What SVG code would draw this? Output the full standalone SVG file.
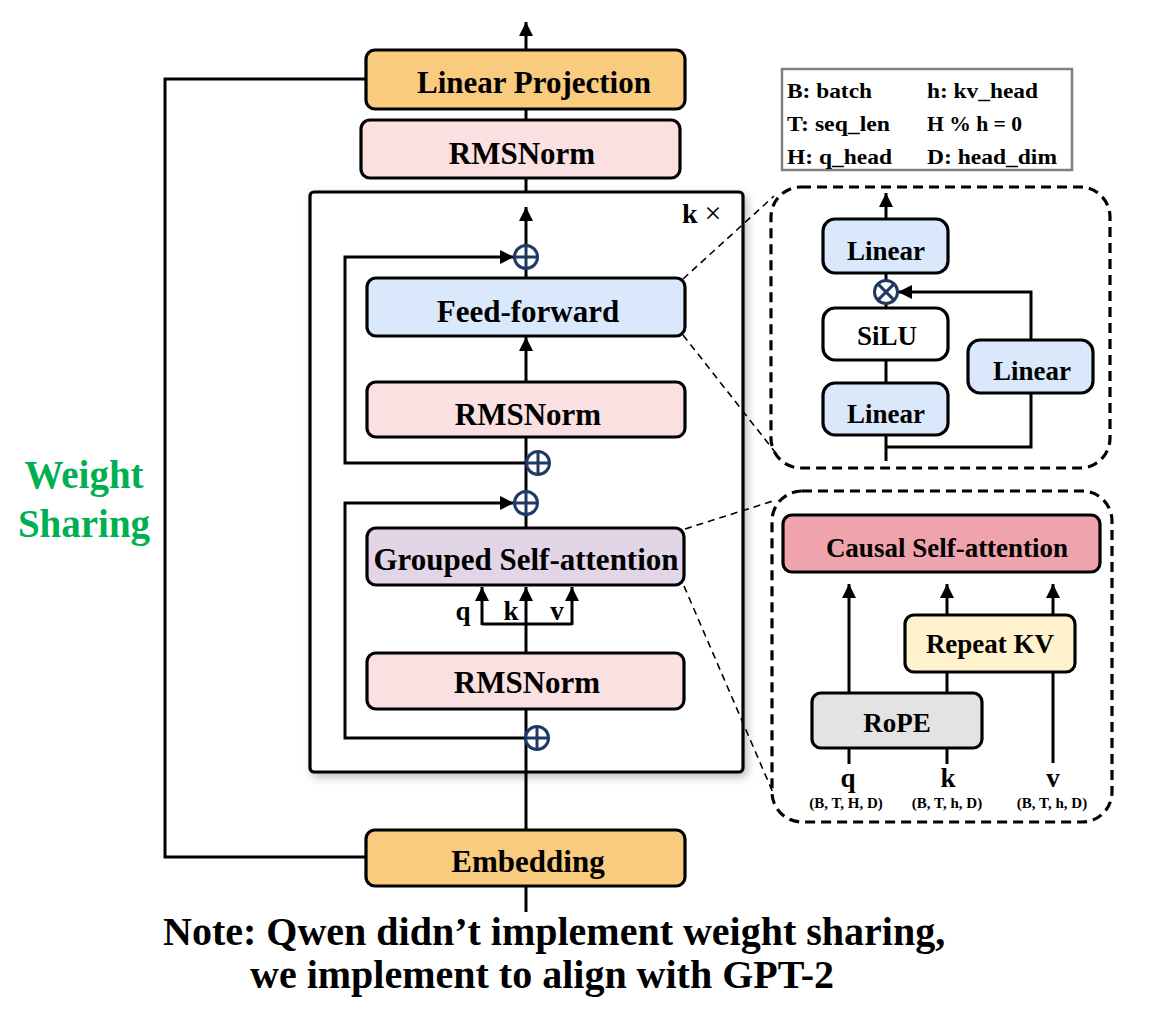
<svg xmlns="http://www.w3.org/2000/svg" width="1171" height="1032" viewBox="0 0 1171 1032">
<defs>
<style>
.t{font-family:'Liberation Serif',Tinos,'Times New Roman','DejaVu Serif',serif;font-weight:bold;fill:#000}
.box{stroke:#000;stroke-width:3.2}
.ln{fill:none;stroke:#000;stroke-width:3}
.dl{fill:none;stroke:#000;stroke-width:1.6;stroke-dasharray:7,5}
.db{fill:none;stroke:#000;stroke-width:3.2;stroke-dasharray:10,6}
.op{fill:#fff;stroke:#203864;stroke-width:3}
.orange{fill:#F8CB7F}.pink{fill:#FBE0E1}.blue{fill:#DAE8FC}.purple{fill:#E1D5E7}
.red{fill:#EFA3AC}.yellow{fill:#FFF2CC}.gray{fill:#E3E3E3}.white{fill:#fff}
</style>
<marker id="ah" viewBox="0 0 10 10" refX="10" refY="5" markerWidth="15" markerHeight="14" markerUnits="userSpaceOnUse" orient="auto">
<path d="M0,0 L10,5 L0,10 z" fill="#000"/>
</marker>
<filter id="sh" x="-10%" y="-10%" width="120%" height="120%">
<feDropShadow dx="3" dy="4" stdDeviation="4" flood-color="#000" flood-opacity="0.25"/>
</filter>
</defs>
<rect width="1171" height="1032" fill="#fff"/>

<g id="block-frame">
<rect x="310" y="192" width="433" height="580" rx="4" fill="#fff" stroke="#000" stroke-width="3.2" filter="url(#sh)"/>
<text class="t" x="682" y="223" font-size="28" font-family="Liberation Serif, serif">k <tspan font-weight="normal" font-size="30">×</tspan></text>
</g>

<g id="connectors">
<polyline class="ln" points="366,79 165,79 165,857 366,857"/>
<line class="ln" x1="526" y1="912" x2="526" y2="886"/>
<line class="ln" x1="526" y1="830" x2="526" y2="709"/>
<line class="ln" x1="526" y1="653" x2="526" y2="624"/>
<line class="ln" x1="526" y1="528" x2="526" y2="437"/>
<line class="ln" x1="526" y1="382" x2="526" y2="337" marker-end="url(#ah)"/>
<line class="ln" x1="526" y1="278" x2="526" y2="207" marker-end="url(#ah)"/>
<line class="ln" x1="526" y1="192" x2="526" y2="178"/>
<line class="ln" x1="526" y1="120" x2="526" y2="109"/>
<line class="ln" x1="526" y1="50" x2="526" y2="22" marker-end="url(#ah)"/>
<polyline class="ln" points="482,624 572,624"/>
<line class="ln" x1="482" y1="625" x2="482" y2="587" marker-end="url(#ah)"/>
<line class="ln" x1="526" y1="625" x2="526" y2="587" marker-end="url(#ah)"/>
<line class="ln" x1="572" y1="625" x2="572" y2="587" marker-end="url(#ah)"/>
<polyline class="ln" points="526,738 345,738 345,503 514,503" marker-end="url(#ah)"/>
<polyline class="ln" points="527,463 345,463 345,257 514,257" marker-end="url(#ah)"/>
<line class="dl" x1="683" y1="279" x2="774" y2="196"/>
<line class="dl" x1="683" y1="335" x2="775" y2="452"/>
<line class="dl" x1="685" y1="529" x2="776" y2="500"/>
<line class="dl" x1="684" y1="586" x2="774" y2="795"/>
<line class="ln" x1="886" y1="219" x2="886" y2="193" marker-end="url(#ah)"/>
<line class="ln" x1="886" y1="273" x2="886" y2="308"/>
<line class="ln" x1="886" y1="360" x2="886" y2="383"/>
<line class="ln" x1="886" y1="435" x2="886" y2="461"/>
<polyline class="ln" points="886,447 1031,447 1031,393"/>
<polyline class="ln" points="1031,340 1031,292 898,292" marker-end="url(#ah)"/>
<line class="ln" x1="849" y1="693" x2="849" y2="584" marker-end="url(#ah)"/>
<line class="ln" x1="947" y1="615" x2="947" y2="584" marker-end="url(#ah)"/>
<line class="ln" x1="1053" y1="763" x2="1053" y2="584" marker-end="url(#ah)"/>
<line class="ln" x1="947" y1="693" x2="947" y2="672"/>
<line class="ln" x1="849" y1="748" x2="849" y2="764"/>
<line class="ln" x1="947" y1="748" x2="947" y2="764"/>
</g>

<g id="add-top">
<circle class="op" cx="526" cy="257" r="11.5"/>
<path d="M526,245.5 V268.5 M514.5,257 H537.5" stroke="#203864" stroke-width="3"/>
</g>
<g id="add-mid">
<circle class="op" cx="538" cy="463" r="11.5"/>
<path d="M538,451.5 V474.5 M526.5,463 H549.5" stroke="#203864" stroke-width="3"/>
</g>
<g id="add-attn">
<circle class="op" cx="526" cy="503" r="11.5"/>
<path d="M526,491.5 V514.5 M514.5,503 H537.5" stroke="#203864" stroke-width="3"/>
</g>
<g id="add-bottom">
<circle class="op" cx="537" cy="738" r="11.5"/>
<path d="M537,726.5 V749.5 M525.5,738 H548.5" stroke="#203864" stroke-width="3"/>
</g>

<g id="linear-projection">
<rect class="box orange" x="366" y="50" width="319" height="59" rx="9"/>
<text class="t" x="534" y="93" font-size="31" text-anchor="middle">Linear Projection</text>
</g>
<g id="rmsnorm-final">
<rect class="box pink" x="361" y="120" width="319" height="58" rx="9"/>
<text class="t" x="522" y="164" font-size="31" text-anchor="middle">RMSNorm</text>
</g>
<g id="feed-forward">
<rect class="box blue" x="367" y="278" width="318" height="58" rx="9"/>
<text class="t" x="528" y="322" font-size="31" text-anchor="middle">Feed-forward</text>
</g>
<g id="rmsnorm-ffn">
<rect class="box pink" x="367" y="382" width="318" height="55" rx="9"/>
<text class="t" x="528" y="425" font-size="31" text-anchor="middle">RMSNorm</text>
</g>
<g id="grouped-attn">
<rect class="box purple" x="367" y="528" width="317" height="57" rx="9"/>
<text class="t" x="526" y="570" font-size="31" text-anchor="middle">Grouped Self-attention</text>
</g>
<g id="qkv-labels">
<text class="t" x="463" y="620" font-size="27" text-anchor="middle">q</text>
<text class="t" x="511" y="620" font-size="27" text-anchor="middle">k</text>
<text class="t" x="557" y="620" font-size="27" text-anchor="middle">v</text>
</g>
<g id="rmsnorm-attn">
<rect class="box pink" x="367" y="653" width="317" height="56" rx="9"/>
<text class="t" x="527" y="693" font-size="31" text-anchor="middle">RMSNorm</text>
</g>
<g id="embedding">
<rect class="box orange" x="366" y="830" width="319" height="56" rx="9"/>
<text class="t" x="528" y="872" font-size="31" text-anchor="middle">Embedding</text>
</g>

<g id="weight-sharing">
<text class="t" x="84" y="488" font-size="39" text-anchor="middle" style="fill:#00B050">Weight</text>
<text class="t" x="84" y="537" font-size="39" text-anchor="middle" style="fill:#00B050">Sharing</text>
</g>

<g id="legend">
<rect x="782" y="69" width="290" height="101" fill="#fff" stroke="#7F7F7F" stroke-width="2.5"/>
<text class="t" x="787" y="98" font-size="21" textLength="85" lengthAdjust="spacingAndGlyphs">B: batch</text>
<text class="t" x="927" y="98" font-size="21" textLength="111" lengthAdjust="spacingAndGlyphs">h: kv_head</text>
<text class="t" x="787" y="131" font-size="21" textLength="103" lengthAdjust="spacingAndGlyphs">T: seq_len</text>
<text class="t" x="927" y="131" font-size="21" textLength="95" lengthAdjust="spacingAndGlyphs">H % h = 0</text>
<text class="t" x="787" y="164" font-size="21" textLength="105" lengthAdjust="spacingAndGlyphs">H: q_head</text>
<text class="t" x="927" y="164" font-size="21" textLength="130" lengthAdjust="spacingAndGlyphs">D: head_dim</text>
</g>

<g id="ffn-detail">
<rect class="db" x="771" y="187" width="339" height="281" rx="30"/>
<g id="ffn-linear-out">
<rect class="box blue" x="823" y="219" width="125" height="54" rx="12"/>
<text class="t" x="886" y="260" font-size="27" text-anchor="middle">Linear</text>
</g>
<g id="ffn-mul">
<circle class="op" cx="886" cy="292" r="11.5"/>
<path d="M877.9,283.9 L894.1,300.1 M894.1,283.9 L877.9,300.1" stroke="#203864" stroke-width="3"/>
</g>
<g id="ffn-silu">
<rect class="box white" x="823" y="308" width="125" height="52" rx="12"/>
<text class="t" x="887" y="345" font-size="27" text-anchor="middle">SiLU</text>
</g>
<g id="ffn-linear-gate">
<rect class="box blue" x="823" y="383" width="125" height="52" rx="12"/>
<text class="t" x="886" y="423" font-size="27" text-anchor="middle">Linear</text>
</g>
<g id="ffn-linear-up">
<rect class="box blue" x="968" y="340" width="125" height="53" rx="12"/>
<text class="t" x="1032" y="380" font-size="27" text-anchor="middle">Linear</text>
</g>
</g>

<g id="attn-detail">
<rect class="db" x="772" y="491" width="340" height="331" rx="30"/>
<g id="causal-attn">
<rect class="box red" x="783" y="515" width="317" height="57" rx="9"/>
<text class="t" x="947" y="557" font-size="27" text-anchor="middle">Causal Self-attention</text>
</g>
<g id="repeat-kv">
<rect class="box yellow" x="905" y="615" width="170" height="57" rx="9"/>
<text class="t" x="990" y="653" font-size="27" text-anchor="middle">Repeat KV</text>
</g>
<g id="rope">
<rect class="box gray" x="812" y="693" width="170" height="55" rx="9"/>
<text class="t" x="897" y="732" font-size="27" text-anchor="middle">RoPE</text>
</g>
<g id="attn-inputs">
<text class="t" x="848" y="787" font-size="27" text-anchor="middle">q</text>
<text class="t" x="948" y="787" font-size="27" text-anchor="middle">k</text>
<text class="t" x="1053" y="787" font-size="27" text-anchor="middle">v</text>
<text class="t" x="846" y="808" font-size="15" text-anchor="middle">(B, T, H, D)</text>
<text class="t" x="947" y="808" font-size="15" text-anchor="middle">(B, T, h, D)</text>
<text class="t" x="1052" y="808" font-size="15" text-anchor="middle">(B, T, h, D)</text>
</g>
</g>

<g id="note">
<text class="t" x="163" y="945" font-size="40">Note: Qwen didn’t implement weight sharing,</text>
<text class="t" x="250" y="988" font-size="40">we implement to align with GPT-2</text>
</g>
</svg>
